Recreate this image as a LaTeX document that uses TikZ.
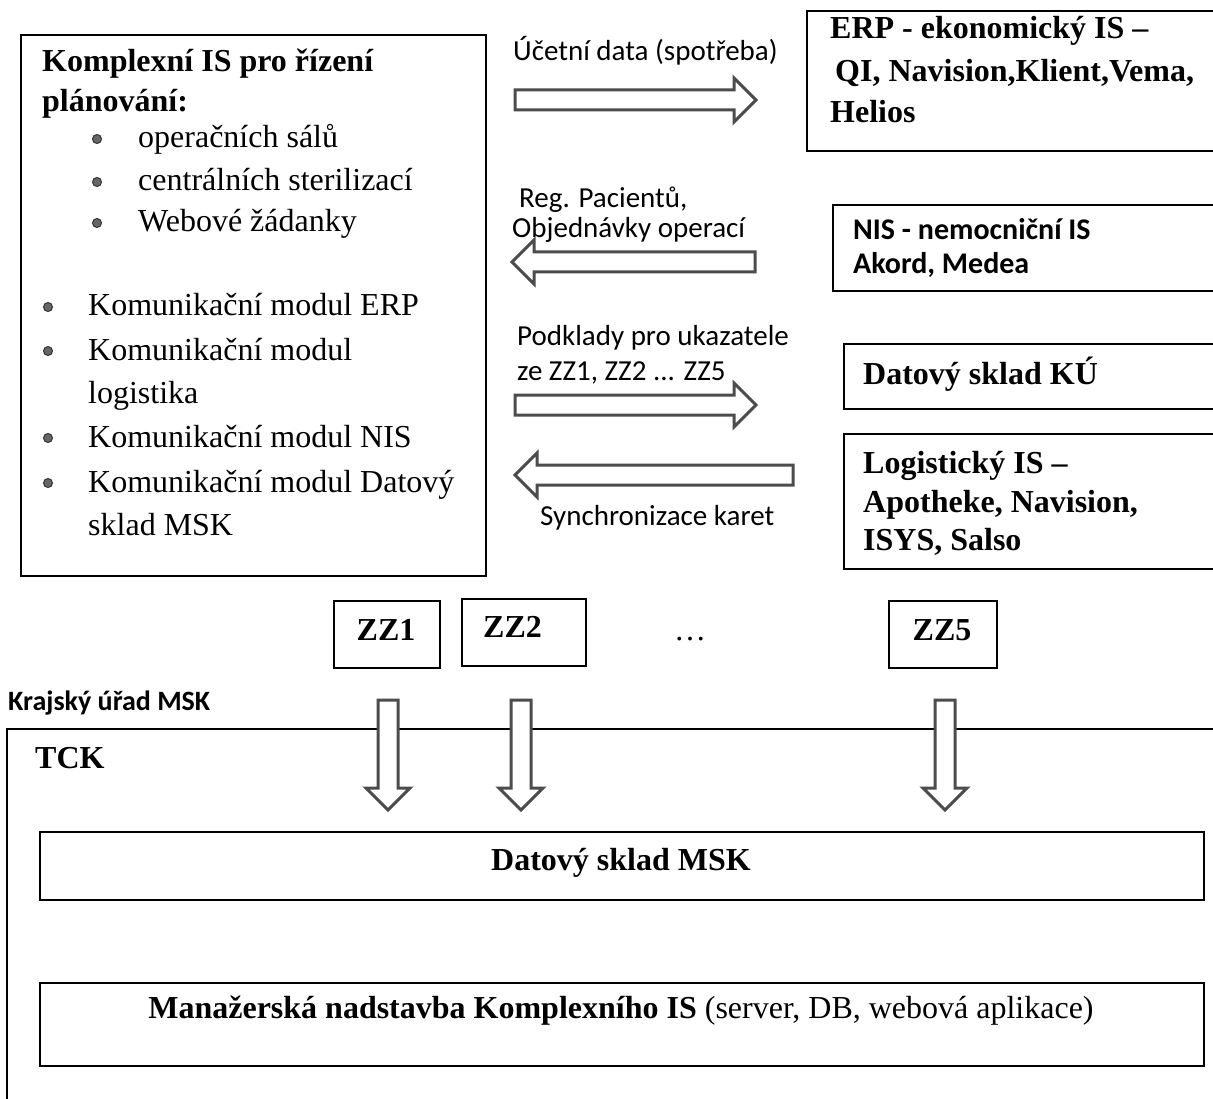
\documentclass[tikz,border=0pt]{standalone}
\usepackage{fontspec}
\setmainfont{Liberation Serif}
\newfontfamily\calib{Carlito}
\newcommand{\rblock}[3]{\draw[blk] (#1,#3-10) -- (#2-22,#3-10) -- (#2-22,#3-22) -- (#2,#3) -- (#2-22,#3+22) -- (#2-22,#3+10) -- (#1,#3+10) -- cycle;}
\newcommand{\lblock}[3]{\draw[blk] (#2,#3-10) -- (#1+22,#3-10) -- (#1+22,#3-22) -- (#1,#3) -- (#1+22,#3+22) -- (#1+22,#3+10) -- (#2,#3+10) -- cycle;}
\newcommand{\dblock}[3]{\draw[blk] (#1-10,#2) -- (#1-10,#3-22) -- (#1-22,#3-22) -- (#1,#3) -- (#1+22,#3-22) -- (#1+10,#3-22) -- (#1+10,#2) -- cycle;}
\tikzset{
 box/.style={draw=black, line width=1.6pt, inner sep=0, anchor=north west},
 blk/.style={draw=black!70, line width=3pt, fill=white, line join=miter},
 ser/.style={font=\fontsize{32}{38}\selectfont, inner sep=0},
 serb/.style={font=\fontsize{32}{38}\selectfont\bfseries, inner sep=0},
 lab/.style={font=\calib\fontsize{29}{34}\selectfont, inner sep=0},
 labb/.style={font=\calib\bfseries\fontsize{30}{36}\selectfont, inner sep=0},
 dot/.style={circle, draw=black!80, line width=1pt, fill=black!60, inner sep=0, minimum size=9}
}
\begin{document}
\begin{tikzpicture}[x=1pt,y=-1pt]
\useasboundingbox (0,0) rectangle (1213,1099);
\clip (0,0) rectangle (1213,1099);
\fill[white] (0,0) rectangle (1213,1099);
% left box
\node[box, minimum width=465, minimum height=541] (kis) at (20,34) {};
\node[serb, anchor=base west] (k1) at (42,72) {Komplexní IS pro řízení};
\node[serb, anchor=base west] (k2) at (42,112) {plánování:};
\node[dot] (d1) at (97,139) {};
\node[ser, anchor=base west] (k3) at (138,148) {operačních sálů};
\node[dot] (d2) at (97,182) {};
\node[ser, anchor=base west] (k4) at (138,191) {centrálních sterilizací};
\node[dot] (d3) at (97,223) {};
\node[ser, anchor=base west] (k5) at (138,232) {Webové žádanky};
\node[dot] (d4) at (48,307) {};
\node[ser, anchor=base west] (k6) at (88,316) {Komunikační modul ERP};
\node[dot] (d5) at (48,351) {};
\node[ser, anchor=base west] (k7) at (88,360) {Komunikační modul};
\node[ser, anchor=base west] (k8) at (88,403) {logistika};
\node[dot] (d6) at (48,438) {};
\node[ser, anchor=base west] (k9) at (88,447) {Komunikační modul NIS};
\node[dot] (d7) at (48,483) {};
\node[ser, anchor=base west] (k10) at (88,492) {Komunikační modul Datový};
\node[ser, anchor=base west] (k11) at (88,535) {sklad MSK};
% right boxes
\node[box, minimum width=420, minimum height=140] (erp) at (806,10) {};
\node[serb, anchor=base west] (e1) at (830,39) {ERP - ekonomický IS –};
\node[serb, anchor=base west] (e2) at (835,82) {QI, Navision,Klient,Vema,};
\node[serb, anchor=base west] (e3) at (830,123) {Helios};
\node[box, minimum width=400, minimum height=86] (nis) at (832,204) {};
\node[labb, anchor=base west] (n1) at (853,240) {NIS - nemocniční IS};
\node[labb, anchor=base west] (n2) at (853,274) {Akord, Medea};
\node[box, minimum width=390, minimum height=65] (dku) at (843,343) {};
\node[serb, anchor=base west] (dk1) at (863,384) {Datový sklad KÚ};
\node[box, minimum width=390, minimum height=135] (log) at (843,433) {};
\node[serb, anchor=base west] (l1) at (863,473) {Logistický IS –};
\node[serb, anchor=base west] (l2) at (863,512) {Apotheke, Navision,};
\node[serb, anchor=base west] (l3) at (863,550) {ISYS, Salso};
% arrow labels
\node[lab, anchor=base west] (a1l) at (513,61) {Účetní data (spotřeba)};
\node[lab, anchor=base west] (a2l1) at (519,208) {Reg. Pacientů,};
\node[lab, anchor=base west] (a2l2) at (512,238) {Objednávky operací};
\node[lab, anchor=base west] (a3l1) at (517,345) {Podklady pro ukazatele};
\node[lab, anchor=base west] (a3l2) at (517,380) {ze ZZ1, ZZ2 ... ZZ5};
\node[lab, anchor=base west] (a4l) at (540,525) {Synchronizace karet};
% horizontal block arrows
\rblock{515}{756}{100}
\lblock{512}{755}{262}
\rblock{515}{756}{405}
\lblock{515}{793}{475}
% ZZ boxes
\node[box, minimum width=106, minimum height=67] (zz1) at (333,600) {};
\node[serb, anchor=base] (zz1t) at (386,640) {ZZ1};
\node[box, minimum width=124, minimum height=67] (zz2) at (461,598) {};
\node[serb, anchor=base west] (zz2t) at (483,637) {ZZ2};
\node[ser, anchor=base] (dots) at (690,640) {…};
\node[box, minimum width=108, minimum height=67] (zz5) at (888,600) {};
\node[serb, anchor=base] (zz5t) at (942,640) {ZZ5};
% region
\node[labb, font=\calib\bfseries\fontsize{28}{34}\selectfont, anchor=base west] (kraj) at (8,710) {Krajský úřad MSK};
\node[box, minimum width=1240, minimum height=420] (tck) at (6,728) {};
\node[serb, anchor=base west] (tckt) at (35,768) {TCK};
% down arrows
\dblock{388}{700}{810}
\dblock{521}{700}{810}
\dblock{945}{700}{810}
% bottom boxes
\node[box, minimum width=1164, minimum height=68] (dmsk) at (39,831) {};
\node[serb, anchor=base] (dmskt) at (621,870) {Datový sklad MSK};
\node[box, minimum width=1164, minimum height=83] (man) at (39,982) {};
\node[ser, anchor=base] (mant) at (621,1018) {\textbf{Manažerská nadstavba Komplexního IS} (server, DB, webová aplikace)};
\end{tikzpicture}
\end{document}
